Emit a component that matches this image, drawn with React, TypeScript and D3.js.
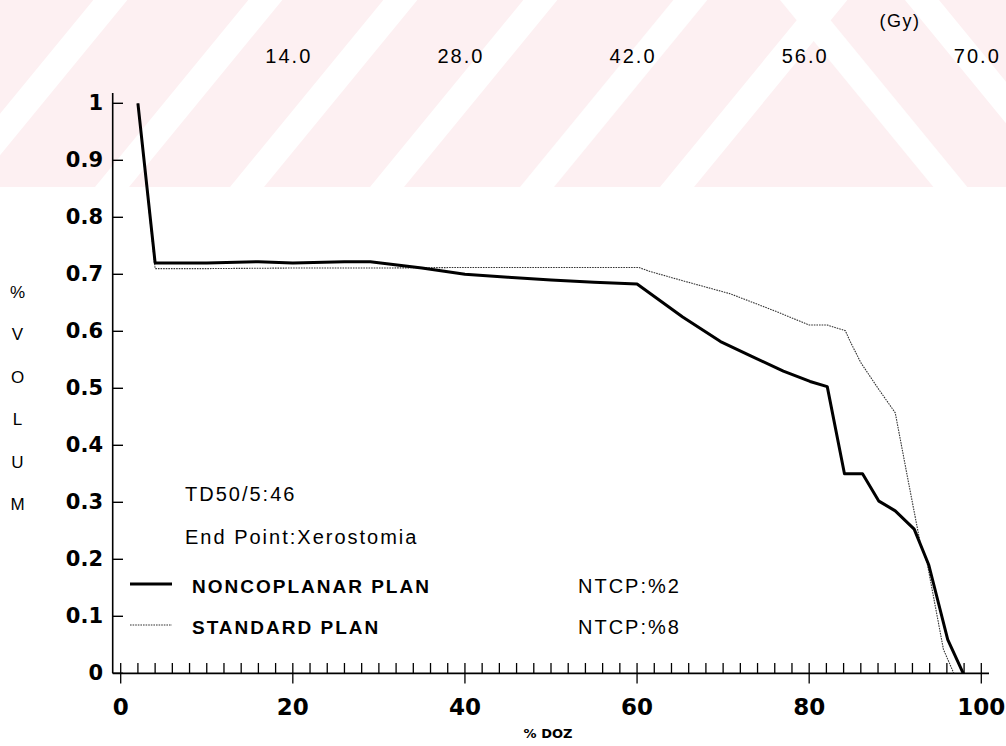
import React from "react";
import { scaleLinear, line, range } from "d3";

const width = 1006;
const height = 746;

// % DOZ values (x) and % VOLUM values (y)
const noncoplanarDose = [2, 4, 10, 16, 20, 26, 29, 35, 40, 45, 50, 55, 60, 65.3, 69.7, 73.2, 77, 80.1, 82.1, 84.1, 86.2, 88.1, 90, 92.2, 93.9, 96.1, 97.9];
const noncoplanarVolume = [1.0, 0.72, 0.72, 0.722, 0.72, 0.722, 0.722, 0.711, 0.7, 0.695, 0.69, 0.686, 0.683, 0.625, 0.582, 0.557, 0.53, 0.512, 0.503, 0.35, 0.35, 0.302, 0.285, 0.253, 0.19, 0.059, 0.0];

const standardDose = [2, 4, 10, 20, 30, 40, 50, 60.2, 61.5, 65, 70.8, 76.3, 80, 82.1, 84.2, 84.8, 86, 88, 90, 91.4, 92.9, 93.7, 95.6, 96.8];
const standardVolume = [1.0, 0.71, 0.71, 0.711, 0.711, 0.712, 0.712, 0.712, 0.705, 0.69, 0.666, 0.634, 0.611, 0.611, 0.601, 0.581, 0.545, 0.5, 0.457, 0.346, 0.229, 0.194, 0.042, 0.0];

const xTicks = [0, 20, 40, 60, 80, 100];
const yTicks = [0, 0.1, 0.2, 0.3, 0.4, 0.5, 0.6, 0.7, 0.8, 0.9, 1];
const gyTicks = ["14.0", "28.0", "42.0", "56.0", "70.0"];
const yTitle = ["%", "V", "O", "L", "U", "M"];
const infoLines = ["TD50/5:46", "End Point:Xerostomia"];
const legendNames = ["NONCOPLANAR PLAN", "STANDARD PLAN"];
const legendNtcp = ["NTCP:%2", "NTCP:%8"];

// faint watermark stripes behind the top of the chart
const stripesUp = [-60, 95, 230, 370, 520, 660];
const stripesDown = [780, 905];

const sans = "'Liberation Sans', Arial, sans-serif";
const bold = "'DejaVu Sans', sans-serif";

const App = () => {
  const x = scaleLinear().domain([0, 100]).range([120.7, 981.3]);
  const gy = scaleLinear().domain([0, 70]).range([120.7, 981.3]);
  const y = scaleLinear().domain([0, 1]).range([673.3, 103.3]);

  const path = line<[number, number]>()
    .x((d) => x(d[0]))
    .y((d) => y(d[1]));

  const nonco = noncoplanarDose.map((d, i) => [d, noncoplanarVolume[i]] as [number, number]);
  const std = standardDose.map((d, i) => [d, standardVolume[i]] as [number, number]);

  const bandH = 187;
  const lean = 0.82 * bandH;

  return (
    <svg width={width} height={height} style={{ position: "absolute", left: 0, top: 0, background: "#fff" }}>
      {/* watermark */}
      <rect x={0} y={0} width={width} height={bandH} fill="#fdf0f2" />
      {stripesUp.map((s, i) => (
        <polygon
          key={"u" + i}
          points={`${s},${bandH} ${s + 34},${bandH} ${s + 34 + lean},0 ${s + lean},0`}
          fill="#fff"
        />
      ))}
      {stripesDown.map((s, i) => (
        <polygon
          key={"d" + i}
          points={`${s},0 ${s + 34},0 ${s + 34 + lean},${bandH} ${s + lean},${bandH}`}
          fill="#fff"
        />
      ))}

      {/* axes */}
      <line x1={112.7} x2={112.7} y1={93} y2={673.3} stroke="#000" strokeWidth={1.6} />
      <line x1={112.7} x2={989} y1={673.3} y2={673.3} stroke="#000" strokeWidth={1.8} />
      {yTicks.map((t) => (
        <g key={t}>
          <line x1={112.7} x2={123} y1={y(t)} y2={y(t)} stroke="#000" strokeWidth={1.4} />
          <text
            x={103}
            y={y(t)}
            textAnchor="end"
            dominantBaseline="central"
            fontFamily={bold}
            fontWeight="bold"
            fontSize={21}
          >
            {t === 0 ? "0" : t === 1 ? "1" : t.toFixed(1)}
          </text>
        </g>
      ))}
      {range(0, 101, 2).map((t) => (
        <line
          key={t}
          x1={x(t)}
          x2={x(t)}
          y1={663}
          y2={t % 20 === 0 ? 683.5 : 673.3}
          stroke="#000"
          strokeWidth={1.3}
        />
      ))}
      {xTicks.map((t) => (
        <text
          key={t}
          x={x(t)}
          y={715}
          textAnchor="middle"
          fontFamily={bold}
          fontWeight="bold"
          fontSize={23}
        >
          {t}
        </text>
      ))}
      <text x={548} y={738} textAnchor="middle" fontFamily={bold} fontWeight="bold" fontSize={13}>
        % DOZ
      </text>

      {/* top Gy labels */}
      {gyTicks.map((t) => (
        <text
          key={t}
          x={gy(+t) - 4}
          y={63}
          textAnchor="middle"
          fontFamily={sans}
          fontSize={20}
          letterSpacing={2}
        >
          {t}
        </text>
      ))}
      <text x={900} y={27} textAnchor="middle" fontFamily={sans} fontSize={18} letterSpacing={1.5}>
        (Gy)
      </text>

      {/* y title */}
      {yTitle.map((c, i) => (
        <text
          key={c}
          x={17.5}
          y={292 + i * 42.5}
          textAnchor="middle"
          dominantBaseline="central"
          fontFamily={sans}
          fontSize={17}
        >
          {c}
        </text>
      ))}

      {/* curves */}
      <path d={path(std) || ""} fill="none" stroke="#333" strokeWidth={1.1} strokeDasharray="1.6 1" />
      <path d={path(nonco) || ""} fill="none" stroke="#000" strokeWidth={3} strokeLinejoin="round" />

      {/* annotations */}
      {infoLines.map((t, i) => (
        <text
          key={t}
          x={185}
          y={494 + i * 43}
          dominantBaseline="central"
          fontFamily={sans}
          fontSize={20}
          letterSpacing={2}
        >
          {t}
        </text>
      ))}
      {legendNames.map((t, i) => (
        <g key={t}>
          <line
            x1={130}
            x2={172}
            y1={584 + i * 41}
            y2={584 + i * 41}
            stroke={i === 0 ? "#000" : "#333"}
            strokeWidth={i === 0 ? 3 : 1.1}
            strokeDasharray={i === 0 ? undefined : "1.6 1"}
          />
          <text
            x={192}
            y={586 + i * 41}
            dominantBaseline="central"
            fontFamily={sans}
            fontWeight="bold"
            fontSize={19}
            letterSpacing={2}
          >
            {t}
          </text>
          <text
            x={578}
            y={586 + i * 41}
            dominantBaseline="central"
            fontFamily={sans}
            fontSize={20}
            letterSpacing={2}
          >
            {legendNtcp[i]}
          </text>
        </g>
      ))}
    </svg>
  );
};

export default App;
